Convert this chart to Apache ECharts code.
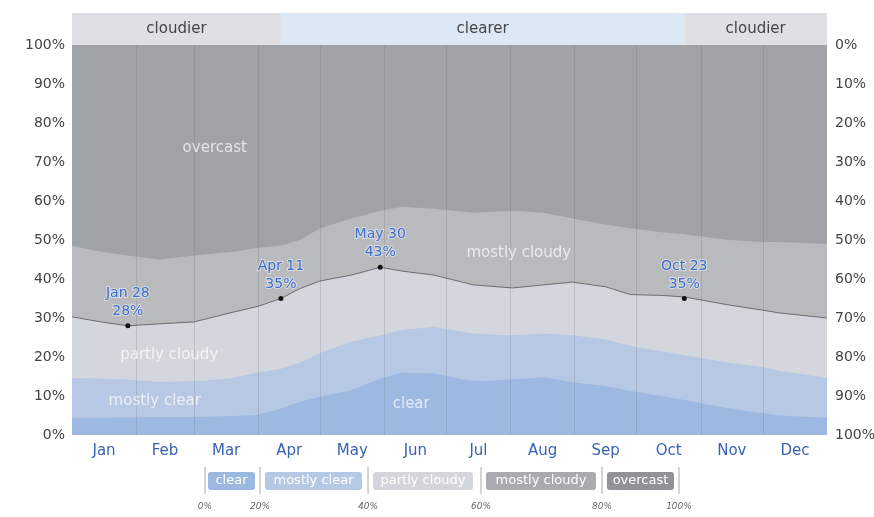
<!DOCTYPE html>
<html>
<head>
<meta charset="utf-8">
<script src="https://cdn.jsdelivr.net/npm/echarts@6/dist/echarts.min.js"></script>
<style>html,body{margin:0;padding:0;background:#fff}#c{width:874px;height:517px}</style>
</head>
<body>
<div id="c"></div>
<script>
// Day of year for each sample
const days = [0, 14, 27, 42, 59, 78, 90, 101, 110, 120, 135, 149, 160, 175, 194, 213, 228, 242, 258, 270, 285, 296, 318, 334, 342, 365];
// Cumulative upper boundaries of each cloud-cover band (%)
const clearTop =        [4.4, 4.4, 4.5, 4.6, 4.6, 4.9, 5.2, 6.8, 8.5, 9.8, 11.5, 14.5, 16.0, 15.8, 13.8, 14.2, 14.8, 13.5, 12.5, 11.3, 10.0, 9.0, 6.8, 5.6, 5.0, 4.4];
const mostlyClearTop =  [14.6, 14.5, 14.2, 13.6, 13.8, 14.6, 16.0, 17.0, 18.5, 21.0, 24.0, 25.5, 27.0, 27.7, 26.0, 25.5, 26.0, 25.6, 24.5, 22.8, 21.5, 20.5, 18.5, 17.4, 16.5, 14.6];
const partlyCloudyTop = [30.3, 29.0, 28.0, 28.5, 29.0, 31.5, 33.0, 35.0, 37.5, 39.5, 41.0, 43.0, 42.0, 41.0, 38.5, 37.7, 38.5, 39.2, 38.0, 36.0, 35.8, 35.4, 33.3, 32.0, 31.3, 30.0];
const mostlyCloudyTop = [48.5, 47.0, 46.0, 45.0, 46.0, 47.0, 48.0, 48.5, 50.0, 53.0, 55.5, 57.5, 58.5, 58.0, 57.0, 57.5, 57.0, 55.5, 54.0, 53.0, 52.0, 51.5, 50.0, 49.5, 49.5, 49.0];
const overcastTop =     [100, 100, 100, 100, 100, 100, 100, 100, 100, 100, 100, 100, 100, 100, 100, 100, 100, 100, 100, 100, 100, 100, 100, 100, 100, 100];

const monthNames = ['Jan','Feb','Mar','Apr','May','Jun','Jul','Aug','Sep','Oct','Nov','Dec'];
const monthMids = [15.5, 45, 74.5, 105, 135.5, 166, 196.5, 227.5, 258, 288.5, 319, 349.5];
const monthStarts = [31, 59, 90, 120, 151, 181, 212, 243, 273, 304, 334];

const seasonStart = [0, 101, 296];
const seasonEnd = [101, 296, 365];
const seasonNames = ['cloudier', 'clearer', 'cloudier'];

const annDays = [27, 101, 149, 296];
const annValues = [28, 35, 43, 35];
const annDates = ['Jan 28', 'Apr 11', 'May 30', 'Oct 23'];

const bandNames = ['overcast', 'mostly cloudy', 'partly cloudy', 'mostly clear', 'clear'];
const bandLabelDay = [69, 216, 47, 40, 164];
const bandLabelValue = [73.6, 46.7, 20.5, 8.7, 8.0];

const legendNames = ['clear', 'mostly clear', 'partly cloudy', 'mostly cloudy', 'overcast'];
const legendTicks = ['0%', '20%', '40%', '60%', '80%', '100%'];

const FONT = '"DejaVu Sans", "Liberation Sans", sans-serif';
const colors = {overcast:'#9fa2a7', mostlyCloudy:'#b8babe', partlyCloudy:'#d3d6dc', mostlyClear:'#b6c8e3', clear:'#9db9e1'};

function pairs(vals){ return days.map((d,i)=>[d, vals[i]]); }
function band(name, vals, color, extra){
  return Object.assign({
    name, type:'line', data:pairs(vals), symbol:'none', smooth:false,
    lineStyle:{width:0}, areaStyle:{color, opacity:1}, silent:true, z:2
  }, extra||{});
}

const chart = echarts.init(document.getElementById('c'), null, {renderer:'canvas'});

const legBoxes = [[208,255,'#9bb8e0'],[265,362,'#b5c8e4'],[373,473,'#d3d6dc'],[486,596,'#a9abaf'],[607,674,'#8f9296']];
const sepX = [205, 260, 368, 481, 602, 679];
const graphics = [];
legBoxes.forEach((b,i)=>{
  graphics.push({type:'rect', shape:{x:b[0], y:472, width:b[1]-b[0], height:18, r:3}, style:{fill:b[2]}});
  graphics.push({type:'text', x:(b[0]+b[1])/2, y:481, style:{text:legendNames[i], fill:'#fff', font:'13px '+FONT, align:'center', verticalAlign:'middle'}});
});
sepX.forEach((x,i)=>{
  graphics.push({type:'line', shape:{x1:x, y1:467, x2:x, y2:494}, style:{stroke:'#aaa', lineWidth:1}});
  graphics.push({type:'text', x:x, y:507, style:{text:legendTicks[i], fill:'#666', font:'italic 9px '+FONT, align:'center', verticalAlign:'middle'}});
});

const option = {
  animation:false,
  textStyle:{fontFamily:FONT},
  grid:[
    {left:72, right:47, top:45, bottom:82, containLabel:false, outerBoundsMode:'none'},
    {left:72, right:47, top:13, height:32, containLabel:false, outerBoundsMode:'none'}
  ],
  xAxis:[
    {type:'value', gridIndex:0, min:0, max:365,
      axisLine:{show:false}, axisTick:{show:false}, splitLine:{show:false},
      axisLabel:{customValues:monthMids, color:'#3a62b3', fontSize:15, margin:9, fontFamily:FONT,
        formatter:(v)=>{ const i = monthMids.indexOf(v); return i>=0 ? monthNames[i] : ''; }}},
    {type:'value', gridIndex:1, min:0, max:365, show:false}
  ],
  yAxis:[
    {type:'value', gridIndex:0, min:0, max:100, interval:10, position:'left',
      axisLine:{show:false}, axisTick:{show:false}, splitLine:{show:false},
      axisLabel:{color:'#444', fontSize:14, margin:7, fontFamily:FONT, formatter:'{value}%'}},
    {type:'value', gridIndex:0, min:0, max:100, interval:10, position:'right', inverse:true,
      axisLine:{show:false}, axisTick:{show:false}, splitLine:{show:false},
      axisLabel:{color:'#444', fontSize:14, margin:8, fontFamily:FONT, formatter:'{value}%'}},
    {type:'value', gridIndex:1, min:0, max:1, show:false}
  ],
  graphic:graphics,
  series:[
    band('overcast', overcastTop, colors.overcast),
    band('mostly cloudy', mostlyCloudyTop, colors.mostlyCloudy),
    band('partly cloudy', partlyCloudyTop, colors.partlyCloudy, {
      lineStyle:{width:1, color:'#6b6d72'},
      markPoint:{
        symbol:'circle', symbolSize:5, itemStyle:{color:'#111'}, silent:true,
        label:{show:true, position:'top', distance:3, color:'#3a6ccb', fontSize:14, lineHeight:18, fontFamily:FONT,
          textBorderColor:'rgba(255,255,255,0.5)', textBorderWidth:2},
        data:annDays.map((d,i)=>({coord:[d, annValues[i]], label:{formatter:annDates[i]+'\n'+annValues[i]+'%'}}))
      }}),
    band('mostly clear', mostlyClearTop, colors.mostlyClear),
    band('clear', clearTop, colors.clear, {
      markLine:{silent:true, symbol:'none', label:{show:false},
        lineStyle:{color:'rgba(100,102,112,0.2)', width:1, type:'solid'},
        data:monthStarts.map(d=>({xAxis:d}))}}),
    {type:'scatter', symbolSize:0, silent:true, z:5,
      data:bandNames.map((n,i)=>({value:[bandLabelDay[i], bandLabelValue[i]], name:n})),
      label:{show:true, position:'inside', formatter:'{b}', color:'rgba(255,255,255,0.9)', fontSize:15, fontFamily:FONT}},
    {type:'line', xAxisIndex:1, yAxisIndex:2, data:[[0,0]], symbol:'none', lineStyle:{width:0}, silent:true,
      markArea:{silent:true,
        data:seasonNames.map((n,i)=>[
          {xAxis:seasonStart[i], yAxis:0, name:n, itemStyle:{color: n==='clearer' ? '#dde8f5' : '#dfe0e3'}},
          {xAxis:seasonEnd[i], yAxis:1}
        ]),
        label:{show:true, position:'inside', color:'#444', fontSize:15, fontFamily:FONT}
      }}
  ]
};
chart.setOption(option);
</script>
</body>
</html>
